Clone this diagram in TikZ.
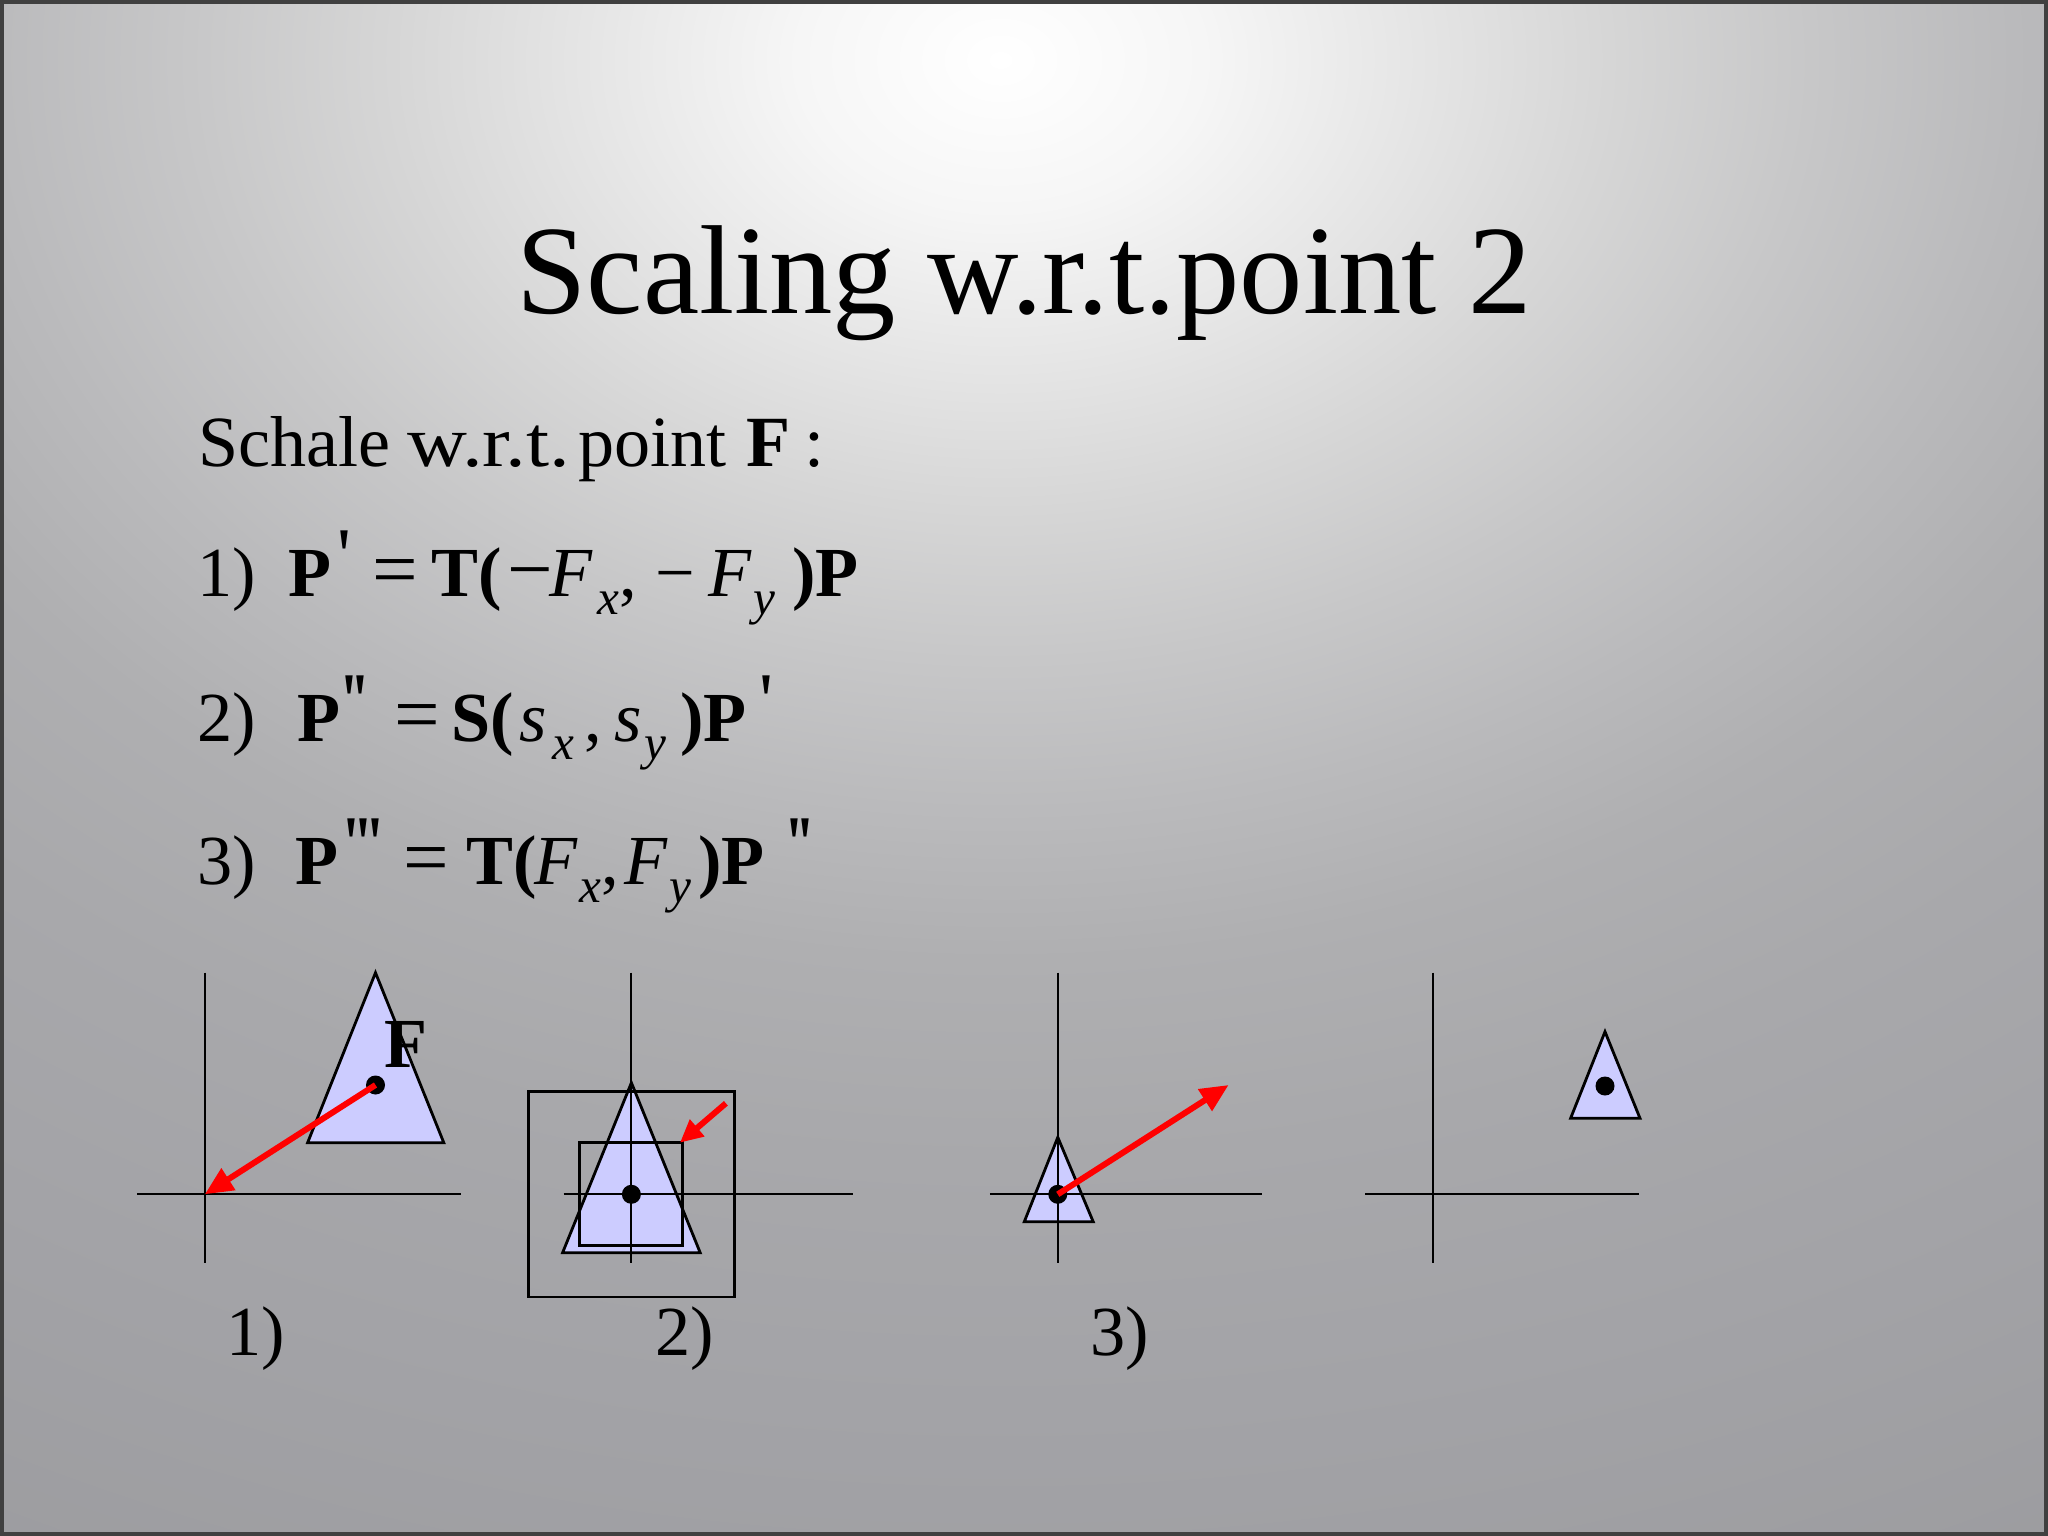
\documentclass[tikz,border=0pt]{standalone}
\usepackage{fontspec}
\setmainfont{Liberation Serif}
\newfontfamily\qfont{Liberation Serif}
\usetikzlibrary{arrows.meta}
\newlength\pxu \setlength\pxu{0.01cm}
\newcommand\putat[2]{\makebox[0pt][l]{\hspace*{#1\pxu}#2}}
\newcommand\subtxt[1]{\raisebox{-18\pxu}{\fontsize{14}{16}\selectfont\itshape #1}}
\newcommand\prm[1]{\raisebox{15\pxu}{\qfont\fontsize{22}{22}\selectfont #1}}
\newcommand\bigsym[1]{{\fontsize{23}{24}\selectfont #1}}
\newcommand\pone{'}
\newcommand\ptwo{'\kern-3\pxu'}
\newcommand\pthree{'\kern-2\pxu'\kern-2\pxu'}
\definecolor{trifill}{RGB}{204,204,255}
\definecolor{bga}{RGB}{255,255,255}
\definecolor{bgb}{RGB}{246,246,246}
\definecolor{bgc}{RGB}{230,230,230}
\definecolor{bgd}{RGB}{214,214,214}
\definecolor{bge}{RGB}{199,199,200}
\definecolor{bgf}{RGB}{186,186,188}
\definecolor{bgg}{RGB}{175,175,177}
\definecolor{bgh}{RGB}{168,168,171}
\definecolor{bgi}{RGB}{163,163,167}
\definecolor{bgj}{RGB}{154,154,157}
\definecolor{frame}{RGB}{64,64,64}
\pgfdeclareradialshading{bgshade}{\pgfpoint{0cm}{0cm}}{color(0cm)=(bga); color(1.5cm)=(bgb); color(3cm)=(bgc); color(4.5cm)=(bgd); color(6cm)=(bge); color(7.5cm)=(bgf); color(9cm)=(bgg); color(11cm)=(bgh); color(13.5cm)=(bgi); color(18cm)=(bgj)}
\tikzset{
  axis/.style={line width=0.6pt, black},
  tri/.style={fill=trifill, draw=black, line width=0.8pt, line join=miter},
  sq/.style={draw=black, line width=0.8pt},
  dot/.style={fill=black},
  redarrow/.style={draw=red, line width=1.7pt, -{Triangle[length=8pt,width=7pt]}},
  txt/.style={anchor=base west, inner sep=0pt, font=\fontsize{20}{24}\selectfont},
}
\begin{document}
\begin{tikzpicture}[x=0.01cm, y=-0.01cm]
\useasboundingbox (0,0) rectangle (2048,1536);
\begin{scope}
  \clip (0,0) rectangle (2048,1536);
  \pgftransformshift{\pgfpoint{10cm}{-0.6cm}}
  \pgftransformxscale{1.35}
  \pgftext{\pgfuseshading{bgshade}}
\end{scope}
\draw[frame, line width=1.2pt] (2,2) rectangle (2046,1534);

% texts
\node[anchor=base, inner sep=0pt, font=\fontsize{36}{40}\selectfont] (title) at (1024,313) {Scaling w.r.t.point 2};
\node[anchor=base west, inner sep=0pt, font=\fontsize{20.5}{24}\selectfont] (schale) at (198,466)
  {\putat{-2}{Schale}\putat{207}{\scalebox{1.15}[1]{w.r.t.}}\putat{378}{point}\putat{546}{\textbf{F}}\putat{604}{:}};
\node[txt] (eq1) at (198,596)
  {\putat{-3}{1)}\putat{88}{\textbf{P}}\putat{137}{\prm{\pone}}\putat{172}{\bigsym{=}}\putat{231}{\textbf{T(}}\putat{307}{\bigsym{−}}\putat{349}{\textit{F}}\putat{397}{\subtxt{x}}\putat{419}{,}\putat{455}{−}\putat{508}{\textit{F}}\putat{553}{\subtxt{y}}\putat{592}{\textbf{)P}}};
\node[txt] (eq2) at (198,741)
  {\putat{-3}{2)}\putat{97}{\textbf{P}}\putat{142}{\prm{\ptwo}}\putat{194}{\bigsym{=}}\putat{251}{\textbf{S(}}\putat{319}{\textit{s}}\putat{352}{\subtxt{x}}\putat{384}{,}\putat{414}{\textit{s}}\putat{444}{\subtxt{y}}\putat{480}{\textbf{)P}}\putat{559}{\prm{\pone}}};
\node[txt] (eq3) at (198,884)
  {\putat{-3}{3)}\putat{95}{\textbf{P}}\putat{144}{\prm{\pthree}}\putat{203}{\bigsym{=}}\putat{266}{\textbf{T(}}\putat{334}{\textit{F}}\putat{379}{\subtxt{x}}\putat{401}{,}\putat{424}{\textit{F}}\putat{469}{\subtxt{y}}\putat{498}{\textbf{)P}}\putat{587}{\prm{\ptwo}}};

% coordinates
\coordinate (O1) at (204.8,1194.3);
\coordinate (O2) at (631.4,1194.3);
\coordinate (O3) at (1057.8,1194.3);
\coordinate (O4) at (1433.4,1194.3);
\coordinate (F1) at (375.5,1085);
\coordinate (F4) at (1605,1086);
\coordinate (A2s) at (725.9,1103.3);
\coordinate (A2e) at (679.9,1142.7);
\coordinate (A3e) at (1228.6,1085);

% triangles
\draw[tri] (375.5,972.7) -- (443.8,1142.7) -- (307.6,1142.7) -- cycle;
\draw[tri] (631.4,1082.7) -- (700.2,1252.7) -- (562.6,1252.7) -- cycle;
\draw[tri] (1057.8,1137.3) -- (1093.2,1221.7) -- (1024.3,1221.7) -- cycle;
\draw[tri] (1605,1031.7) -- (1640,1118.3) -- (1570.6,1118.3) -- cycle;

% axes
\draw[axis] (204.8,972.7) -- (204.8,1262.7);
\draw[axis] (137,1194.3) -- (460.8,1194.3);
\draw[axis] (631.4,972.7) -- (631.4,1262.7);
\draw[axis] (563.5,1194.3) -- (852.9,1194.3);
\draw[axis] (1057.8,972.7) -- (1057.8,1262.7);
\draw[axis] (989.8,1194.3) -- (1262.1,1194.3);
\draw[axis] (1433.4,972.7) -- (1433.4,1262.7);
\draw[axis] (1365.4,1194.3) -- (1638.6,1194.3);

% squares in panel 2
\draw[sq] (528.6,1091.7) rectangle (734.2,1297);
\draw[sq] (579.5,1142.7) rectangle (682.3,1245.7);

% dots
\fill[dot] (F1) circle[radius=0.095cm];
\fill[dot] (O2) circle[radius=0.095cm];
\fill[dot] (O3) circle[radius=0.095cm];
\fill[dot] (F4) circle[radius=0.095cm];

% arrows
\draw[redarrow] (F1) -- (O1);
\draw[redarrow, -{Triangle[length=6.5pt,width=6pt]}] (A2s) -- (A2e);
\draw[redarrow] (O3) -- (A3e);

% labels
\node[txt, font=\fontsize{20}{24}\selectfont\bfseries] (flabel) at (384,1067) {F};
\node[txt] (l1) at (226,1355) {1)};
\node[txt] (l2) at (655,1355) {2)};
\node[txt] (l3) at (1090,1355) {3)};
\end{tikzpicture}
\end{document}
